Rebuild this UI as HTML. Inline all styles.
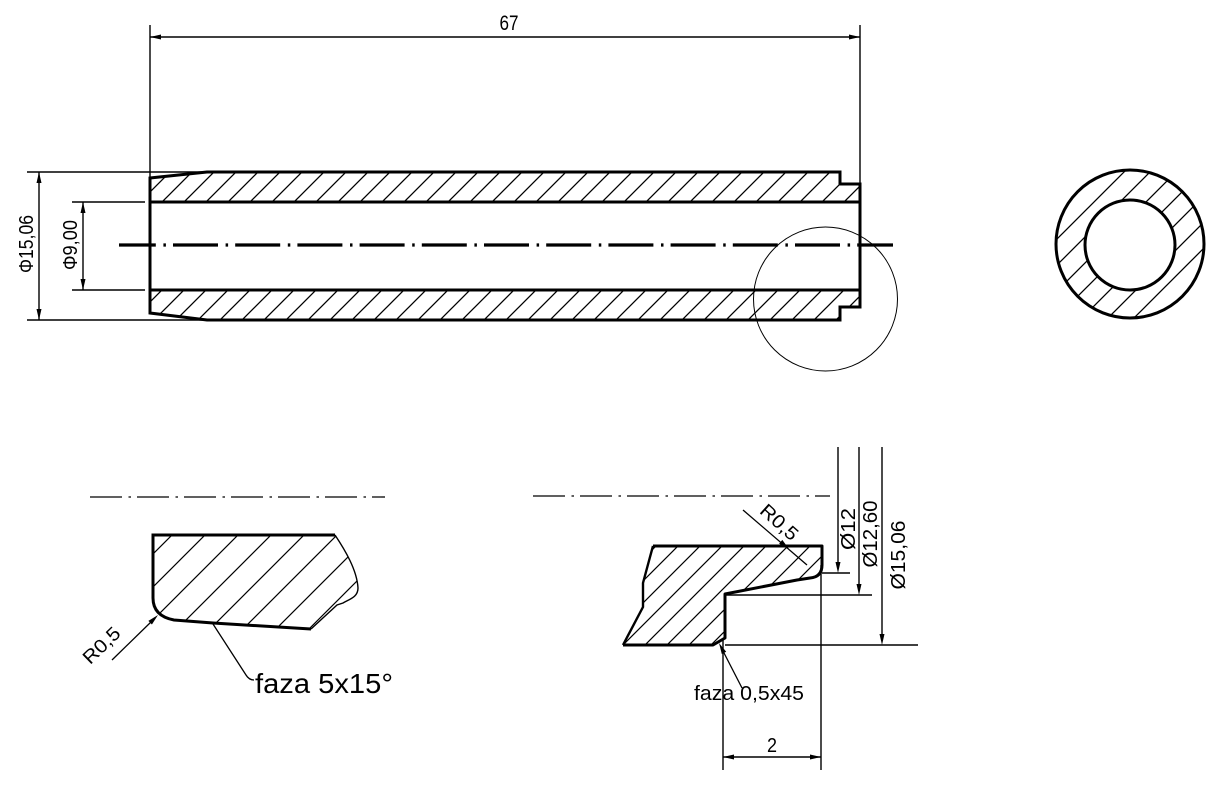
<!DOCTYPE html>
<html><head><meta charset="utf-8"><style>
html,body{margin:0;padding:0;background:#fff;}
svg{display:block;}
text{font-family:"Liberation Sans",sans-serif;fill:#000;}
</style></head><body>
<svg width="1220" height="786" viewBox="0 0 1220 786" xmlns="http://www.w3.org/2000/svg">
<defs>
<pattern id="h22" patternUnits="userSpaceOnUse" x="12" y="0" width="22" height="22">
<path d="M-2,2 L2,-2 M0,22 L22,0 M20,24 L24,20" stroke="#000" stroke-width="1.3"/>
</pattern>
<pattern id="hring" patternUnits="userSpaceOnUse" x="22" y="0" width="26" height="26">
<path d="M-2,2 L2,-2 M0,26 L26,0 M24,28 L28,24" stroke="#000" stroke-width="1.3"/>
</pattern>
<pattern id="hL" patternUnits="userSpaceOnUse" x="14" y="0" width="33" height="33">
<path d="M-2,2 L2,-2 M0,33 L33,0 M31,35 L35,31" stroke="#000" stroke-width="1.2"/>
</pattern>
<pattern id="hR" patternUnits="userSpaceOnUse" x="14" y="0" width="22" height="22">
<path d="M-2,2 L2,-2 M0,22 L22,0 M20,24 L24,20" stroke="#000" stroke-width="1.2"/>
</pattern>
</defs>

<!-- ===== MAIN VIEW ===== -->
<path d="M150,178 L207,172 L840,172 L840,184 L860,184 L860,202 L150,202 Z" fill="url(#h22)"/>
<path d="M150,290 L860,290 L860,307 L840,307 L840,320 L207,320 L150,313 Z" fill="url(#h22)"/>

<!-- dimension 67 -->
<g stroke="#000" stroke-width="1.4" fill="none">
<line x1="150" y1="25" x2="150" y2="178"/>
<line x1="860" y1="25" x2="860" y2="184"/>
<line x1="150" y1="37" x2="860" y2="37"/>
</g>
<polygon points="150,37 161,34.5 161,39.5" fill="#000"/>
<polygon points="860,37 849,34.5 849,39.5" fill="#000"/>
<text x="509" y="30" font-size="21" text-anchor="middle" textLength="19" lengthAdjust="spacingAndGlyphs">67</text>

<!-- left diameter dims -->
<g stroke="#000" stroke-width="1.4" fill="none">
<line x1="27" y1="172" x2="207" y2="172"/>
<line x1="27" y1="320" x2="207" y2="320"/>
<line x1="39" y1="172" x2="39" y2="320"/>
<line x1="72" y1="202" x2="145" y2="202"/>
<line x1="72" y1="290" x2="145" y2="290"/>
<line x1="83" y1="202" x2="83" y2="290"/>
</g>
<polygon points="39,172 36.5,183 41.5,183" fill="#000"/>
<polygon points="39,320 36.5,309 41.5,309" fill="#000"/>
<polygon points="83,202 80.5,213 85.5,213" fill="#000"/>
<polygon points="83,290 80.5,279 85.5,279" fill="#000"/>
<text transform="translate(33,244) rotate(-90)" x="0" y="0" font-size="20" text-anchor="middle" textLength="58" lengthAdjust="spacingAndGlyphs">Φ15,06</text>
<text transform="translate(77,245) rotate(-90)" x="0" y="0" font-size="20" text-anchor="middle" textLength="50" lengthAdjust="spacingAndGlyphs">Φ9,00</text>

<!-- outline -->
<g stroke="#000" stroke-width="3" fill="none" stroke-linejoin="miter">
<path d="M207,172 L840,172 L840,184 L860,184 L860,307 L840,307 L840,320 L207,320 L150,313 L150,178 Z"/>
<line x1="150" y1="202" x2="860" y2="202"/>
<line x1="150" y1="290" x2="860" y2="290"/>
</g>
<line x1="119" y1="245" x2="893" y2="245" stroke="#000" stroke-width="3.2" stroke-dasharray="45 7.6 2.5 7.1" stroke-dashoffset="8.2"/>
<circle cx="825.5" cy="299" r="72" fill="none" stroke="#000" stroke-width="1"/>

<!-- ===== RING ===== -->
<path d="M1056,244 A74,74 0 1,0 1204,244 A74,74 0 1,0 1056,244 Z M1085,245 A45,45 0 1,0 1175,245 A45,45 0 1,0 1085,245 Z" fill="url(#hring)" fill-rule="evenodd"/>
<circle cx="1130" cy="244" r="74" fill="none" stroke="#000" stroke-width="3"/>
<circle cx="1130" cy="245" r="45" fill="none" stroke="#000" stroke-width="3"/>

<!-- ===== DETAIL LEFT ===== -->
<line x1="90" y1="497" x2="385" y2="497" stroke="#000" stroke-width="1.3" stroke-dasharray="32 6.5 2.5 6"/>
<path d="M153,535 L335,535 C345,550 357,570 358,588 C358,597 350,599 343,603 L337,605 L311,629 L213,623 L174,620 Q153,616 153,598 Z" fill="url(#hL)"/>
<path d="M335,535 C345,550 357,570 358,588 C358,597 350,599 343,603 L337,605 L311,629" fill="none" stroke="#000" stroke-width="1.4"/>
<path d="M335,535 L153,535 L153,598 Q153,616 174,620 L213,623 L311,629" fill="none" stroke="#000" stroke-width="3"/>
<line x1="112" y1="660" x2="152" y2="621" stroke="#000" stroke-width="1.3"/>
<polygon points="158,615 151.9,624.5 148.4,620.9" fill="#000"/>
<text transform="translate(106,650) rotate(-44)" x="0" y="0" font-size="19" text-anchor="middle" textLength="44" lengthAdjust="spacingAndGlyphs">R0,5</text>
<path d="M213,624 L246,675 Q249,680 254,680" fill="none" stroke="#000" stroke-width="1.3"/>
<text x="255" y="693" font-size="28" textLength="138" lengthAdjust="spacingAndGlyphs">faza 5x15°</text>

<!-- ===== DETAIL RIGHT ===== -->
<line x1="533" y1="496" x2="830" y2="496" stroke="#000" stroke-width="1.3" stroke-dasharray="32 6.5 2.5 6"/>
<path d="M653,546 L822,546 L822,565 Q822,577 810,578 L797,580 L725,594 L725,638 L713,645 L623,645 L643,607 L643,583 L650,557 Z" fill="url(#hR)"/>
<path d="M623,645 L643,607 L643,583 L650,557 L653,546" fill="none" stroke="#000" stroke-width="2.4"/>
<path d="M653,546 L822,546 L822,565 Q822,577 810,578 L797,580 L725,594 L725,638 L713,645 L623,645" fill="none" stroke="#000" stroke-width="3" stroke-linejoin="round"/>

<g stroke="#000" stroke-width="1.4" fill="none">
<line x1="838" y1="447" x2="838" y2="566"/>
<line x1="859" y1="447" x2="859" y2="588"/>
<line x1="882" y1="447" x2="882" y2="638"/>
<line x1="822" y1="573" x2="850" y2="573"/>
<line x1="725" y1="595" x2="872" y2="595"/>
<line x1="725" y1="645" x2="918" y2="645"/>
<line x1="821" y1="565" x2="821" y2="770"/>
<line x1="723" y1="638" x2="723" y2="770"/>
<line x1="723" y1="757" x2="821" y2="757"/>
</g>
<polygon points="838,573 835.5,562 840.5,562" fill="#000"/>
<polygon points="859,595 856.5,584 861.5,584" fill="#000"/>
<polygon points="882,645 879.5,634 884.5,634" fill="#000"/>
<polygon points="723,757 734,754.5 734,759.5" fill="#000"/>
<polygon points="821,757 810,754.5 810,759.5" fill="#000"/>
<text transform="translate(855,529) rotate(-90)" x="0" y="0" font-size="20" text-anchor="middle" textLength="42" lengthAdjust="spacingAndGlyphs">Ø12</text>
<text transform="translate(877,534) rotate(-90)" x="0" y="0" font-size="20" text-anchor="middle" textLength="67" lengthAdjust="spacingAndGlyphs">Ø12,60</text>
<text transform="translate(905,555) rotate(-90)" x="0" y="0" font-size="20" text-anchor="middle" textLength="69" lengthAdjust="spacingAndGlyphs">Ø15,06</text>
<text x="772" y="752" font-size="20" text-anchor="middle" textLength="10" lengthAdjust="spacingAndGlyphs">2</text>

<line x1="743" y1="510" x2="807" y2="565" stroke="#000" stroke-width="1.3"/>
<polygon points="789,549 779.1,543.7 782.3,539.9" fill="#000"/>
<text transform="translate(775,527) rotate(42)" x="0" y="0" font-size="19" text-anchor="middle" textLength="44" lengthAdjust="spacingAndGlyphs">R0,5</text>

<line x1="742" y1="688" x2="723" y2="651" stroke="#000" stroke-width="1.3"/>
<polygon points="719,643 726.2,651.7 721.8,654" fill="#000"/>
<text x="694" y="700" font-size="20" textLength="110" lengthAdjust="spacingAndGlyphs">faza 0,5x45</text>
</svg>
</body></html>
